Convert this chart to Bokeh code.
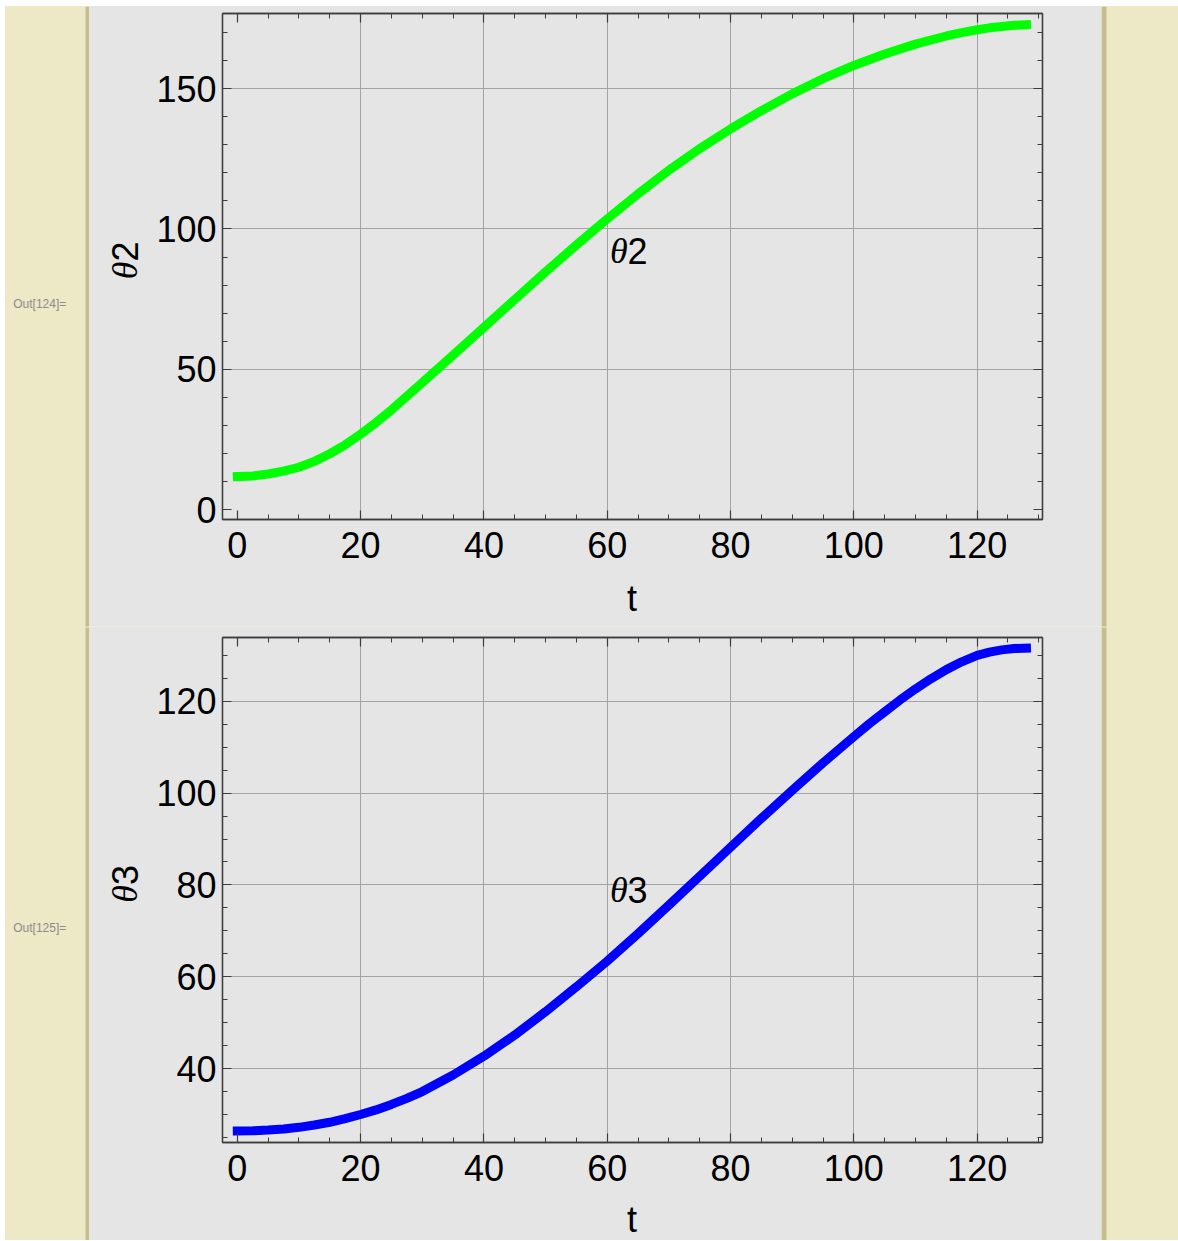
import numpy as np
from bokeh.plotting import figure
from bokeh.models import Range1d, LinearAxis, FixedTicker, Label, Div
from bokeh.layouts import row, column
from bokeh.embed import file_html
from bokeh.resources import INLINE

# ---------------- data ----------------
t2_values = [0, 2.5, 5, 7.5, 10, 12.5, 15, 17.5, 20, 22.5, 25, 30, 35, 40, 45, 50, 55,
             60, 65, 70, 75, 80, 85, 90, 95, 100, 105, 110, 115, 117.5, 120, 122,
             124, 126, 128]
theta2 = [11.9, 12.1, 12.8, 13.8, 15.2, 17.3, 20.0, 23.2, 27.0, 31.1, 35.6, 45.3,
          55.1, 65.0, 74.9, 84.7, 94.3, 103.6, 112.5, 120.9, 128.6, 135.6, 142.1,
          148.1, 153.5, 158.2, 162.3, 165.8, 168.7, 169.9, 170.9, 171.6, 172.1,
          172.5, 172.7]
t3_values = [0, 2.5, 5, 7.5, 10, 12.5, 15, 17.5, 20, 22.5, 25, 27.5, 30, 35, 40, 45,
             50, 55, 60, 65, 70, 75, 80, 85, 90, 95, 100, 102.5, 105, 107.5, 110,
             112.5, 115, 117.5, 120, 122, 124, 126, 128]
theta3 = [26.4, 26.45, 26.6, 26.85, 27.2, 27.7, 28.3, 29.1, 30.0, 31.0, 32.2, 33.5,
          35.0, 38.6, 42.7, 47.3, 52.4, 57.8, 63.4, 69.4, 75.6, 81.9, 88.2, 94.5,
          100.6, 106.6, 112.3, 115.1, 117.7, 120.3, 122.7, 124.9, 126.9, 128.6,
          130.0, 130.7, 131.2, 131.5, 131.6]

t_ticks = [0, 20, 40, 60, 80, 100, 120]
t_minor = list(range(0, 135, 5))
t_grid = [20, 40, 60, 80, 100, 120]
theta2_ticks = [0, 50, 100, 150]
theta2_minor = list(range(0, 180, 10))
theta2_grid = [50, 100, 150]
theta3_ticks = [40, 60, 80, 100, 120]
theta3_minor = list(range(25, 135, 5))
theta3_grid = [40, 60, 80, 100, 120]

# ---------------- style ----------------
BG = "#e5e5e5"
BEIGE = "#ede8c5"
STRIPE = "#c6bd8e"
SEP = "#f1edd3"
FRAME = "#3c3c3c"
GRID = "#a3a3a3"
SANS = "Liberation Sans"
SERIF = "Liberation Serif"
FS = "36px"
XR = (-2.4, 130.6)
BGSTYLE = {"background-color": BG}


def blank(width, height, x_range, y_range, **kw):
    f = figure(width=width, height=height, x_range=x_range, y_range=y_range,
               x_axis_type=None, y_axis_type=None, output_backend="svg",
               toolbar_location=None, tools="", styles=BGSTYLE, **kw)
    f.background_fill_color = None
    f.border_fill_color = BG
    f.outline_line_color = None
    f.grid.visible = False
    return f


def style_axis(ax, show):
    ax.axis_line_color = FRAME
    ax.axis_line_width = 1.3
    ax.major_tick_line_color = FRAME
    ax.minor_tick_line_color = FRAME
    ax.major_tick_line_width = 1.2
    ax.minor_tick_line_width = 1.0
    ax.major_tick_in = 9
    ax.major_tick_out = 0
    ax.minor_tick_in = 5
    ax.minor_tick_out = 0
    if show:
        ax.major_label_text_font = SANS
        ax.major_label_text_font_size = FS
        ax.major_label_text_color = "#000000"
    else:
        ax.major_label_text_font_size = "1px"
        ax.major_label_text_color = None
        ax.major_label_standoff = 0


def theta_label(fig, x, y, digit, angle=0.0):
    fig.add_layout(Label(x=x, y=y, text="θ", angle=angle, text_font=SERIF,
                         text_font_style="italic", text_font_size=FS, text_align="right",
                         text_baseline="middle", text_color="#000000"))
    fig.add_layout(Label(x=x, y=y, text=digit, angle=angle, text_font=SANS,
                         text_font_size=FS, text_align="left", text_baseline="middle",
                         text_color="#000000"))


def panel(main_h, t_h, b_top, b_bottom, yr, yticks, yminor, ygrid, tv, yvals, color,
          digit, lab_y, ylab_y, t_y):
    xr = Range1d(*XR)
    p = figure(width=951, height=main_h, x_range=xr, y_range=Range1d(*yr),
               output_backend="svg", toolbar_location=None, tools="", styles=BGSTYLE,
               min_border_left=72, min_border_right=59,
               min_border_top=b_top, min_border_bottom=b_bottom)
    p.background_fill_color = None
    p.border_fill_color = BG
    p.outline_line_color = FRAME
    p.outline_line_width = 1.3

    p.xaxis.ticker = FixedTicker(ticks=t_ticks, minor_ticks=t_minor)
    p.yaxis.ticker = FixedTicker(ticks=yticks, minor_ticks=yminor)
    style_axis(p.xaxis[0], True)
    style_axis(p.yaxis[0], True)
    p.xaxis.major_label_standoff = 12
    p.yaxis.major_label_standoff = 6

    top_ax = LinearAxis(ticker=FixedTicker(ticks=t_ticks, minor_ticks=t_minor))
    style_axis(top_ax, False)
    p.add_layout(top_ax, "above")
    right_ax = LinearAxis(ticker=FixedTicker(ticks=yticks, minor_ticks=yminor))
    style_axis(right_ax, False)
    p.add_layout(right_ax, "right")

    p.xgrid.ticker = FixedTicker(ticks=t_grid)
    p.ygrid.ticker = FixedTicker(ticks=ygrid)
    for g in (p.xgrid[0], p.ygrid[0]):
        g.grid_line_color = GRID
        g.grid_line_width = 1

    p.line(tv, yvals, line_color=color, line_width=9, line_cap="square")
    theta_label(p, 63.3, lab_y, digit)

    # x-axis title strip (shares the x scale)
    tf = blank(951, t_h, xr, Range1d(0, t_h), min_border_left=72, min_border_right=59,
               min_border_top=0, min_border_bottom=0)
    tf.add_layout(Label(x=64, y=t_y, text="t", text_font=SANS, text_font_size=FS,
                        text_align="center", text_baseline="middle", text_color="#000000"))

    # y-axis title strip
    total_h = main_h + t_h
    yf = blank(61, total_h, Range1d(0, 61), Range1d(0, total_h), min_border=0)
    theta_label(yf, 35, ylab_y, digit, angle=np.pi / 2)

    return row(yf, column(p, tf, styles=BGSTYLE), styles=BGSTYLE)


top = panel(569, 51, 7, 56, (-3.4, 176.7), theta2_ticks, theta2_minor, theta2_grid,
            t2_values, theta2, "#00ff00", "2", 92.2, 365, 28)
bottom = panel(566, 47, 10, 51, (23.9, 133.9), theta3_ticks, theta3_minor, theta3_grid,
               t3_values, theta3, "#0000ff", "3", 78.8, 355.5, 21)

sep = Div(text="", width=1012, height=1, margin=0,
          styles={"background-color": SEP, "overflow": "hidden"})


def band(width, stripe_left, stripe_right, labels):
    b = figure(width=width, height=1234, x_range=Range1d(0, width), y_range=Range1d(0, 1234),
               x_axis_type=None, y_axis_type=None, output_backend="svg",
               toolbar_location=None, tools="", min_border=0,
               styles={"background-color": BEIGE})
    b.background_fill_color = None
    b.border_fill_color = BEIGE
    b.outline_line_color = None
    b.grid.visible = False
    b.quad(left=[stripe_left], right=[stripe_right], bottom=[0], top=[1234],
           fill_color=STRIPE, line_color=None)
    b.quad(left=[stripe_left], right=[stripe_right], bottom=[613], top=[614],
           fill_color=SEP, line_color=None)
    for txt, yy in labels:
        b.add_layout(Label(x=7.7, y=yy, text=txt, text_font=SANS, text_font_size="12px",
                           text_color="#8c8c8c", text_baseline="middle"))
    return b


left = band(84, 80, 84, [("Out[124]=", 937), ("Out[125]=", 313)])
right = band(77, 0, 5, [])

middle = column(top, sep, bottom, styles=BGSTYLE)
layout = row(left, middle, right, margin=(6, 0, 0, 5))

with open("out.html", "w") as f:
    f.write(file_html(layout, INLINE))
